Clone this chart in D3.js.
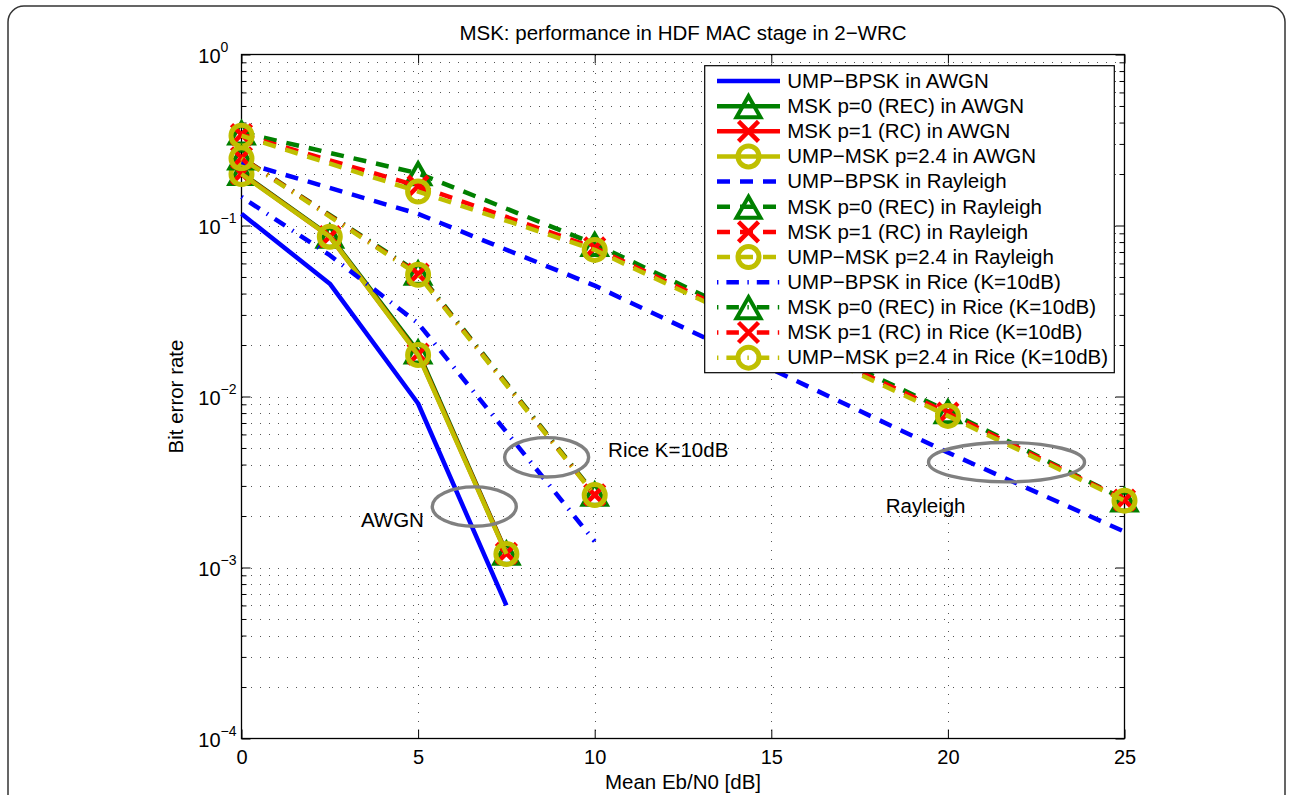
<!DOCTYPE html>
<html>
<head>
<meta charset="utf-8">
<script src="https://cdn.jsdelivr.net/npm/d3@7"></script>
<style>
  body { margin: 0; background: #fff; }
  text { font-family: "Liberation Sans", Arial, sans-serif; fill: #000; }
</style>
</head>
<body>
<script>
// BER curves: MSK in HDF MAC stage, 2-WRC

// Eb/N0 points [dB]
var ebn0Awgn = [0, 2.5, 5, 7.5];
var ebn0Rayleigh = [0, 5, 10, 20, 25];
var ebn0RiceBpsk = [0, 2.5, 5, 7.5, 10];
var ebn0RiceMsk = [0, 5, 10];

// AWGN
var bpskAwgn = [0.117, 0.0457, 0.0091, 0.0006];
var msk0Awgn = [0.203, 0.087, 0.0183, 0.00122];
var msk1Awgn = [0.201, 0.086, 0.0177, 0.00121];
var umpMskAwgn = [0.2, 0.086, 0.0175, 0.0012];

// Rayleigh
var bpskRayleigh = [0.235, 0.117, 0.0445, 0.0047, 0.00162];
var msk0Rayleigh = [0.35, 0.202, 0.078, 0.0082, 0.0025];
var msk1Rayleigh = [0.34, 0.17, 0.074, 0.008, 0.00248];
var umpMskRayleigh = [0.335, 0.158, 0.072, 0.0077, 0.00246];

// Rice K=10dB
var bpskRice = [0.147, 0.067, 0.0268, 0.0062, 0.00142];
var msk0Rice = [0.25, 0.053, 0.0027];
var msk1Rice = [0.249, 0.052, 0.00266];
var umpMskRice = [0.247, 0.0515, 0.00265];

var seriesNames = [
  "UMP\u2212BPSK in AWGN", "MSK p=0 (REC) in AWGN", "MSK p=1 (RC) in AWGN", "UMP\u2212MSK p=2.4 in AWGN",
  "UMP\u2212BPSK in Rayleigh", "MSK p=0 (REC) in Rayleigh", "MSK p=1 (RC) in Rayleigh", "UMP\u2212MSK p=2.4 in Rayleigh",
  "UMP\u2212BPSK in Rice (K=10dB)", "MSK p=0 (REC) in Rice (K=10dB)", "MSK p=1 (RC) in Rice (K=10dB)", "UMP\u2212MSK p=2.4 in Rice (K=10dB)"
];

var xTicks = [0, 5, 10, 15, 20, 25];
var yDecades = [1e-4, 1e-3, 1e-2, 1e-1, 1];
var yExponents = ["\u22124", "\u22123", "\u22122", "\u22121", "0"];

// annotations: label at [dB, BER], ellipses centred at [dB, BER]
var annoLabels = ["AWGN", "Rice K=10dB", "Rayleigh"];
var annoDb = [3.38, 10.38, 18.24];
var annoBer = [1.73e-3, 4.45e-3, 2.07e-3];
var ellipseDb = [6.59, 8.64, 21.66];
var ellipseBer = [2.27e-3, 4.41e-3, 4.13e-3];

// ---- setup
var svgWidth = 1292, svgHeight = 795;
var plot = { left: 241.5, right: 1124.5, top: 54.5, bottom: 738.5 };

var svg = d3.select("body").append("svg")
  .attr("width", svgWidth)
  .attr("height", svgHeight);

// outer frame
svg.append("rect")
  .attr("x", 8).attr("y", 6)
  .attr("width", 1277).attr("height", 820)
  .attr("rx", 16)
  .attr("fill", "none")
  .attr("stroke", "#333")
  .attr("stroke-width", 1.5);

var x = d3.scaleLinear().domain([0, 25]).range([plot.left, plot.right]);
var y = d3.scaleLog().domain([1e-4, 1]).range([plot.bottom, plot.top]);

var minorY = [];
[1e-4, 1e-3, 1e-2, 1e-1].forEach(function(d) {
  for (var k = 2; k <= 9; k++) minorY.push(d * k);
});

// ---- grid
var grid = svg.append("g").attr("stroke", "#555").attr("stroke-width", 1)
  .attr("stroke-dasharray", "1,8").attr("shape-rendering", "crispEdges");

grid.selectAll(".hgrid")
  .data(minorY.concat([1e-3, 1e-2, 1e-1]))
  .enter().append("line")
  .attr("x1", plot.left).attr("x2", plot.right)
  .attr("y1", d => Math.round(y(d)) + 0.5).attr("y2", d => Math.round(y(d)) + 0.5);

grid.selectAll(".vgrid")
  .data([5, 10, 15, 20])
  .enter().append("line")
  .attr("y1", plot.top).attr("y2", plot.bottom)
  .attr("x1", d => Math.round(x(d)) + 0.5).attr("x2", d => Math.round(x(d)) + 0.5);

// ---- axes
function styleAxis(g) {
  g.select(".domain").remove();
  g.selectAll(".tick line").attr("stroke", "#000").attr("stroke-width", 1);
}

svg.append("g")
  .attr("transform", `translate(0,${plot.bottom})`)
  .call(d3.axisBottom(x).tickValues(xTicks).tickSize(-9).tickPadding(11).tickFormat(d3.format("d")))
  .call(styleAxis)
  .selectAll("text").style("font-size", "20px").style("font-family", "Liberation Sans, Arial, sans-serif");

svg.append("g")
  .attr("transform", `translate(0,${plot.top})`)
  .call(d3.axisTop(x).tickValues(xTicks).tickSize(-9).tickFormat(""))
  .call(styleAxis);

[[d3.axisLeft, plot.left], [d3.axisRight, plot.right]].forEach(function(a) {
  svg.append("g")
    .attr("transform", `translate(${a[1]},0)`)
    .call(a[0](y).tickValues(yDecades).tickSize(-9).tickFormat(""))
    .call(styleAxis);
  svg.append("g")
    .attr("transform", `translate(${a[1]},0)`)
    .call(a[0](y).tickValues(minorY).tickSize(-5).tickFormat(""))
    .call(styleAxis);
});

// y tick labels 10^n
yDecades.forEach(function(d, i) {
  var t = svg.append("text")
    .attr("x", 198.3)
    .attr("y", y(d) + 8.8)
    .style("font-size", "20px");
  t.append("tspan").text("10");
  t.append("tspan").attr("dy", -11.5).style("font-size", "14px").text(yExponents[i]);
});

// box
svg.append("rect")
  .attr("x", plot.left).attr("y", plot.top)
  .attr("width", plot.right - plot.left).attr("height", plot.bottom - plot.top)
  .attr("fill", "none").attr("stroke", "#000").attr("stroke-width", 1.3);

// ---- series
var blue = "#0000ff", green = "#008000", red = "#ff0000", olive = "#bfbf00";
var dashed = "13,10", dashDot = "1.4,8,12.5,8.5";

var series = [
  { xs: ebn0Awgn, ys: bpskAwgn, color: blue, dash: null, marker: null },
  { xs: ebn0Awgn, ys: msk0Awgn, color: green, dash: null, marker: "tri" },
  { xs: ebn0Awgn, ys: msk1Awgn, color: red, dash: null, marker: "x" },
  { xs: ebn0Awgn, ys: umpMskAwgn, color: olive, dash: null, marker: "o" },
  { xs: ebn0Rayleigh, ys: bpskRayleigh, color: blue, dash: dashed, marker: null },
  { xs: ebn0Rayleigh, ys: msk0Rayleigh, color: green, dash: dashed, marker: "tri" },
  { xs: ebn0Rayleigh, ys: msk1Rayleigh, color: red, dash: dashed, marker: "x" },
  { xs: ebn0Rayleigh, ys: umpMskRayleigh, color: olive, dash: dashed, marker: "o" },
  { xs: ebn0RiceBpsk, ys: bpskRice, color: blue, dash: dashDot, marker: null },
  { xs: ebn0RiceMsk, ys: msk0Rice, color: green, dash: dashDot, marker: "tri" },
  { xs: ebn0RiceMsk, ys: msk1Rice, color: red, dash: dashDot, marker: "x" },
  { xs: ebn0RiceMsk, ys: umpMskRice, color: olive, dash: dashDot, marker: "o" }
];
series.forEach(function(s, i) { s.name = seriesNames[i]; });

var markerPaths = {
  tri: "M0,-10L12,11L-12,11Z",
  x: "M-10,-10L10,10M-10,10L10,-10"
};

function drawMarker(g, type, color, cx, cy) {
  if (!type) return;
  if (type === "o") {
    g.append("circle").attr("cx", cx).attr("cy", cy).attr("r", 10.5)
      .attr("fill", "none").attr("stroke", color).attr("stroke-width", 5);
  } else {
    g.append("path").attr("d", markerPaths[type])
      .attr("transform", `translate(${cx},${cy})`)
      .attr("fill", "none").attr("stroke", color)
      .attr("stroke-width", type === "x" ? 4.5 : 4)
      .attr("stroke-linejoin", "miter");
  }
}

var line = d3.line().x(d => x(d[0])).y(d => y(d[1]));
var plotG = svg.append("g");

series.forEach(function(s) {
  var pts = s.xs.map((v, j) => [v, s.ys[j]]);
  var g = plotG.append("g");
  g.append("path")
    .attr("d", line(pts))
    .attr("fill", "none")
    .attr("stroke", s.color)
    .attr("stroke-width", 4.5)
    .attr("stroke-linejoin", "round")
    .attr("stroke-dasharray", s.dash);
  pts.forEach(function(p) { drawMarker(g, s.marker, s.color, x(p[0]), y(p[1])); });
});

// ---- annotations
svg.selectAll(".ell")
  .data(ellipseDb)
  .enter().append("ellipse")
  .attr("class", "ell")
  .attr("cx", d => x(d)).attr("cy", (d, i) => y(ellipseBer[i]))
  .attr("rx", (d, i) => i === 2 ? 78 : 42).attr("ry", 19.7)
  .attr("fill", "none").attr("stroke", "#808080").attr("stroke-width", 3.4);

svg.selectAll(".anno")
  .data(annoLabels)
  .enter().append("text")
  .attr("class", "anno")
  .attr("x", (d, i) => x(annoDb[i])).attr("y", (d, i) => y(annoBer[i]))
  .style("font-size", "20.5px")
  .text(d => d);

// ---- legend
var legend = svg.append("g");
legend.append("rect")
  .attr("x", 704.7).attr("y", 65.7)
  .attr("width", 409.6).attr("height", 307)
  .attr("fill", "#fff").attr("stroke", "#000").attr("stroke-width", 1.2);

series.forEach(function(s, i) {
  var cy = 81 + i * 25.15;
  var row = legend.append("g");
  row.append("line")
    .attr("x1", 717).attr("x2", 780)
    .attr("y1", cy).attr("y2", cy)
    .attr("stroke", s.color).attr("stroke-width", 4.5)
    .attr("stroke-dasharray", s.dash);
  drawMarker(row, s.marker, s.color, 748.5, cy);
  row.append("text")
    .attr("x", 787.3).attr("y", cy + 6.8)
    .style("font-size", "20.5px")
    .text(s.name);
});

// ---- titles
svg.append("text")
  .attr("x", (plot.left + plot.right) / 2).attr("y", 39.5)
  .attr("text-anchor", "middle")
  .style("font-size", "20.5px")
  .text("MSK: performance in HDF MAC stage in 2\u2212WRC");

svg.append("text")
  .attr("x", (plot.left + plot.right) / 2).attr("y", 788.5)
  .attr("text-anchor", "middle")
  .style("font-size", "20.5px")
  .text("Mean Eb/N0 [dB]");

svg.append("text")
  .attr("transform", `translate(183,${(plot.top + plot.bottom) / 2}) rotate(-90)`)
  .attr("text-anchor", "middle")
  .style("font-size", "20.5px")
  .text("Bit error rate");
</script>
</body>
</html>
